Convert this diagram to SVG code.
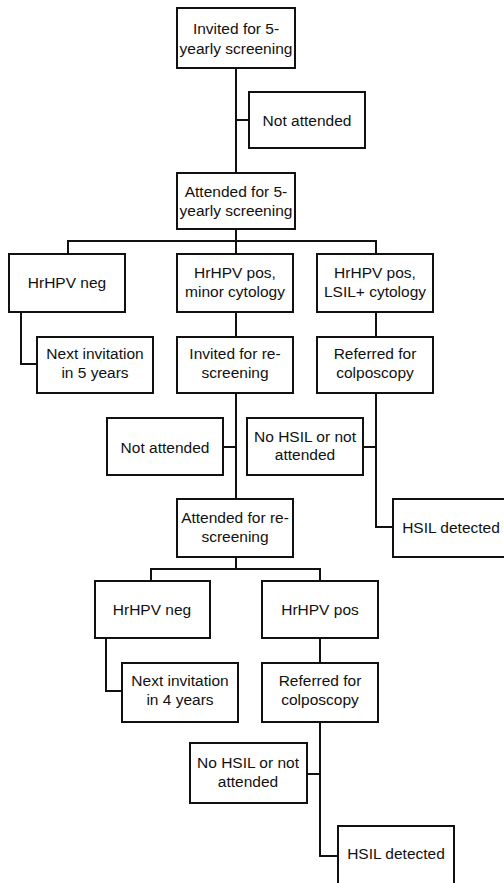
<svg xmlns="http://www.w3.org/2000/svg" width="504" height="883" viewBox="0 0 504 883">
<style>
rect{fill:#fff;stroke:#111;stroke-width:2}
text{font-family:"Liberation Sans",Arial,sans-serif;font-size:15.5px;fill:#111;text-anchor:middle;dominant-baseline:central}
.c{fill:none;stroke:#111;stroke-width:2}
</style>
<rect x="0" y="0" width="504" height="883" style="fill:#fff;stroke:none"/>
<g id="connectors">
<path class="c" d="M236,68V173M236,120H249"/>
<path class="c" d="M236,229V254M68,254V241H376V254"/>
<path class="c" d="M21,312V364H37"/>
<path class="c" d="M236,312V337M376,312V337"/>
<path class="c" d="M236,393V499M223,447H236"/>
<path class="c" d="M376,393V527H393M363,447H376"/>
<path class="c" d="M236,557V569M151,581V569H320V581"/>
<path class="c" d="M106,638V691H122"/>
<path class="c" d="M320,638V663"/>
<path class="c" d="M320,722V856H338M307,774H320"/>
</g>
<g id="n1"><rect x="177" y="8" width="118" height="60"/><text x="236" y="28">Invited for 5-</text><text x="236" y="48">yearly screening</text></g>
<g id="n2"><rect x="249" y="92" width="116" height="56"/><text x="307" y="120">Not attended</text></g>
<g id="n3"><rect x="177" y="173" width="118" height="56"/><text x="236" y="191">Attended for 5-</text><text x="236" y="210">yearly screening</text></g>
<g id="n4"><rect x="9" y="254" width="116" height="58"/><text x="67" y="282">HrHPV neg</text></g>
<g id="n5"><rect x="177" y="254" width="116" height="58"/><text x="235" y="272">HrHPV pos,</text><text x="235" y="291">minor cytology</text></g>
<g id="n6"><rect x="317" y="254" width="116" height="58"/><text x="375" y="272">HrHPV pos,</text><text x="375" y="291">LSIL+ cytology</text></g>
<g id="n7"><rect x="37" y="337" width="116" height="56"/><text x="95" y="353">Next invitation</text><text x="95" y="372">in 5 years</text></g>
<g id="n8"><rect x="177" y="337" width="116" height="56"/><text x="235" y="353">Invited for re-</text><text x="235" y="372">screening</text></g>
<g id="n9"><rect x="317" y="337" width="116" height="56"/><text x="375" y="353">Referred for</text><text x="375" y="372">colposcopy</text></g>
<g id="n10"><rect x="107" y="418" width="116" height="57"/><text x="165" y="447">Not attended</text></g>
<g id="n11"><rect x="247" y="418" width="116" height="57"/><text x="305" y="436">No HSIL or not</text><text x="305" y="454">attended</text></g>
<g id="n12"><rect x="393" y="499" width="116" height="58"/><text x="451" y="527">HSIL detected</text></g>
<g id="n13"><rect x="177" y="499" width="116" height="58"/><text x="235" y="517">Attended for re-</text><text x="235" y="536">screening</text></g>
<g id="n14"><rect x="95" y="581" width="115" height="57"/><text x="152" y="609">HrHPV neg</text></g>
<g id="n15"><rect x="262" y="581" width="116" height="57"/><text x="320" y="609">HrHPV pos</text></g>
<g id="n16"><rect x="122" y="663" width="116" height="59"/><text x="180" y="680">Next invitation</text><text x="180" y="699">in 4 years</text></g>
<g id="n17"><rect x="262" y="663" width="116" height="59"/><text x="320" y="680">Referred for</text><text x="320" y="699">colposcopy</text></g>
<g id="n18"><rect x="190" y="743" width="117" height="60"/><text x="248" y="762">No HSIL or not</text><text x="248" y="781">attended</text></g>
<g id="n19"><rect x="338" y="826" width="116" height="62"/><text x="396" y="853">HSIL detected</text></g>
</svg>
